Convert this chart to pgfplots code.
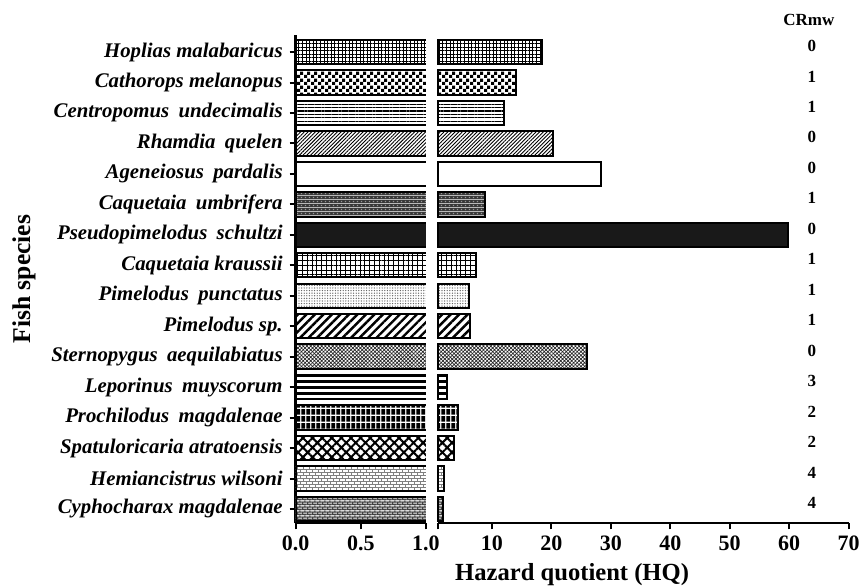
\documentclass[border=0pt]{standalone}
\usepackage{fontspec}
\setmainfont{Liberation Serif}
\usepackage{pgfplots}
\pgfplotsset{compat=1.18}
\usetikzlibrary{patterns,patterns.meta}

\pgfdeclarepatternformonly{smallcheck}{\pgfpointorigin}{\pgfpoint{3.3pt}{3.3pt}}{\pgfpoint{3.3pt}{3.3pt}}{%
  \pgfpathrectangle{\pgfpointorigin}{\pgfpoint{1.65pt}{1.65pt}}%
  \pgfpathrectangle{\pgfpoint{1.65pt}{1.65pt}}{\pgfpoint{1.65pt}{1.65pt}}%
  \pgfusepath{fill}}
\pgfdeclarepatternformonly{hstripes}{\pgfpoint{-1pt}{0pt}}{\pgfpoint{41pt}{3pt}}{\pgfpoint{40pt}{3pt}}{%
  \pgfpathrectangle{\pgfpoint{-1pt}{0pt}}{\pgfpoint{42pt}{1.5pt}}%
  \pgfusepath{fill}}
\pgfdeclarepatternformonly{blackcells}{\pgfpointorigin}{\pgfpoint{2.6pt}{3.3pt}}{\pgfpoint{2.6pt}{3.3pt}}{%
  \pgfpathrectangle{\pgfpoint{0.25pt}{0.25pt}}{\pgfpoint{2.1pt}{2.8pt}}%
  \pgfusepath{fill}}
\pgfdeclarepatternformonly{smallbricks}{\pgfpoint{-0.3pt}{-0.3pt}}{\pgfpoint{3.3pt}{3.3pt}}{\pgfpoint{3pt}{3pt}}{%
  \pgfsetlinewidth{0.5pt}%
  \pgfpathmoveto{\pgfpoint{0pt}{0pt}}\pgfpathlineto{\pgfpoint{3pt}{0pt}}%
  \pgfpathmoveto{\pgfpoint{0pt}{1.5pt}}\pgfpathlineto{\pgfpoint{3pt}{1.5pt}}%
  \pgfpathmoveto{\pgfpoint{0pt}{0pt}}\pgfpathlineto{\pgfpoint{0pt}{1.5pt}}%
  \pgfpathmoveto{\pgfpoint{1.5pt}{1.5pt}}\pgfpathlineto{\pgfpoint{1.5pt}{3pt}}%
  \pgfusepath{stroke}}
\pgfdeclarepatterninherentlycolored{darkspeck}{\pgfpointorigin}{\pgfpoint{2pt}{2pt}}{\pgfpoint{2pt}{2pt}}{%
  \pgfsetfillcolor{black!78}%
  \pgfpathrectangle{\pgfpointorigin}{\pgfpoint{2pt}{2pt}}\pgfusepath{fill}%
  \pgfsetfillcolor{black!40}%
  \pgfpathrectangle{\pgfpoint{0.5pt}{0.5pt}}{\pgfpoint{0.8pt}{0.8pt}}\pgfusepath{fill}}
\pgfdeclarepatterninherentlycolored{graybricks}{\pgfpointorigin}{\pgfpoint{2.4pt}{2.4pt}}{\pgfpoint{2.4pt}{2.4pt}}{%
  \pgfsetfillcolor{black!22}%
  \pgfpathrectangle{\pgfpointorigin}{\pgfpoint{2.4pt}{2.4pt}}\pgfusepath{fill}%
  \pgfsetstrokecolor{black!75}%
  \pgfsetlinewidth{0.45pt}%
  \pgfpathmoveto{\pgfpoint{0pt}{0.3pt}}\pgfpathlineto{\pgfpoint{2.4pt}{0.3pt}}%
  \pgfpathmoveto{\pgfpoint{0pt}{1.5pt}}\pgfpathlineto{\pgfpoint{2.4pt}{1.5pt}}%
  \pgfpathmoveto{\pgfpoint{0.3pt}{0.3pt}}\pgfpathlineto{\pgfpoint{0.3pt}{1.5pt}}%
  \pgfpathmoveto{\pgfpoint{1.5pt}{1.5pt}}\pgfpathlineto{\pgfpoint{1.5pt}{2.4pt}}%
  \pgfusepath{stroke}}

\newcommand\dsp{\hspace{0.45em}}

\pgfplotsset{
  bb/.style={draw=black, line width=1pt},
  p1/.style={bb, pattern={Hatch[angle=0,distance=1.8pt,line width=0.45pt]}, pattern color=black},
  p2/.style={bb, pattern=smallcheck, pattern color=black},
  p3/.style={bb, pattern={Lines[angle=0,distance=1.7pt,line width=0.6pt]}, pattern color=black},
  p4/.style={bb, pattern={Lines[angle=45,distance=1.3pt,line width=0.45pt]}, pattern color=black},
  p5/.style={bb, fill=white},
  p6/.style={bb, pattern=darkspeck},
  p7/.style={bb, fill=black!90},
  p8/.style={bb, pattern={Hatch[angle=0,distance=2.4pt,line width=0.5pt]}, pattern color=black},
  p9/.style={bb, pattern={Dots[distance=1.3pt,radius=0.35pt]}, pattern color=black!60},
  p10/.style={bb, pattern={Lines[angle=45,distance=3pt,line width=1.2pt]}, pattern color=black},
  p11/.style={bb, pattern={Hatch[angle=45,distance=1.3pt,line width=0.35pt]}, pattern color=black!85},
  p12/.style={bb, pattern=hstripes, pattern color=black},
  p13/.style={bb, pattern=blackcells, pattern color=black},
  p14/.style={bb, pattern={Hatch[angle=45,distance=3.4pt,line width=1pt]}, pattern color=black},
  p15/.style={bb, pattern=smallbricks, pattern color=black!50},
  p16/.style={bb, pattern=graybricks},
  common/.style={
    scale only axis, height=244.15pt,
    ymin=-0.47, ymax=15.56,
    xbar, bar shift=0pt, bar width=0.8,
    axis x line*=bottom,
    axis line style={line width=1.2pt, black},
    tick align=outside, major tick length=3pt,
    tick style={line width=1pt, black},
    /pgf/number format/assume math mode=true,
    xticklabel style={font=\bfseries\fontsize{11}{13}\selectfont},
  },
}

\newcommand\allbars{%
  \addplot[p1]  coordinates {(18.5,15)};
  \addplot[p2]  coordinates {(14.1,14)};
  \addplot[p3]  coordinates {(12.0,13)};
  \addplot[p4]  coordinates {(20.3,12)};
  \addplot[p5]  coordinates {(28.3,11)};
  \addplot[p6]  coordinates {(8.8,10)};
  \addplot[p7]  coordinates {(59.8,9)};
  \addplot[p8]  coordinates {(7.3,8)};
  \addplot[p9]  coordinates {(6.1,7)};
  \addplot[p10] coordinates {(6.4,6)};
  \addplot[p11] coordinates {(26.0,5)};
  \addplot[p12] coordinates {(2.5,4)};
  \addplot[p13] coordinates {(4.3,3)};
  \addplot[p14] coordinates {(3.7,2)};
  \addplot[p15] coordinates {(1.9,1)};
  \addplot[p16] coordinates {(1.75,0)};
}

\begin{document}
\begin{tikzpicture}
\useasboundingbox (-147.85pt,-31.85pt) rectangle (282.15pt,261.65pt);
\begin{axis}[common,
  at={(0pt,0pt)}, anchor=south west,
  width=65.15pt,
  xmin=0, xmax=1,
  axis y line*=left,
  xtick={0,0.5,1}, xticklabels={0.0,0.5,1.0},
  ytick={0,...,15},
  yticklabels={Cyphocharax magdalenae, Hemiancistrus wilsoni, Spatuloricaria atratoensis,
    Prochilodus\dsp magdalenae, Leporinus\dsp muyscorum, Sternopygus\dsp aequilabiatus,
    Pimelodus sp., Pimelodus\dsp punctatus, Caquetaia kraussii, Pseudopimelodus\dsp schultzi,
    Caquetaia\dsp umbrifera, Ageneiosus\dsp pardalis, Rhamdia\dsp quelen,
    Centropomus\dsp undecimalis, Cathorops melanopus, Hoplias malabaricus},
  yticklabel style={font=\bfseries\itshape\fontsize{10.4}{12}\selectfont},
  ylabel={Fish species},
  ylabel style={font=\bfseries\fontsize{12.8}{15}\selectfont, at={(axis description cs:-2.085,0.5)}, anchor=center},
]
\allbars
\end{axis}
\begin{axis}[common,
  at={(71.3pt,0pt)}, anchor=south west,
  width=205.2pt,
  xmin=1, xmax=70,
  axis y line=none, ytick=\empty,
  clip=false,
  xtick={1,10,20,30,40,50,60,70}, xticklabels={,10,20,30,40,50,60,70},
  xlabel={Hazard quotient (HQ)},
  xlabel style={font=\bfseries\fontsize{12.3}{15}\selectfont, at={(axis description cs:0.326,-0.106)}, anchor=center},
]
\allbars
\begin{scope}[every node/.style={font=\bfseries\fontsize{8.5}{10}\selectfont, anchor=center}]
\node at (axis cs:63.3,16.05) {CRmw};
\node at (axis cs:63.8,15.2) {0};
\node at (axis cs:63.8,14.2) {1};
\node at (axis cs:63.8,13.2) {1};
\node at (axis cs:63.8,12.2) {0};
\node at (axis cs:63.8,11.2) {0};
\node at (axis cs:63.8,10.2) {1};
\node at (axis cs:63.8,9.2) {0};
\node at (axis cs:63.8,8.2) {1};
\node at (axis cs:63.8,7.2) {1};
\node at (axis cs:63.8,6.2) {1};
\node at (axis cs:63.8,5.2) {0};
\node at (axis cs:63.8,4.2) {3};
\node at (axis cs:63.8,3.2) {2};
\node at (axis cs:63.8,2.2) {2};
\node at (axis cs:63.8,1.2) {4};
\node at (axis cs:63.8,0.2) {4};
\end{scope}
\end{axis}
\end{tikzpicture}
\end{document}
